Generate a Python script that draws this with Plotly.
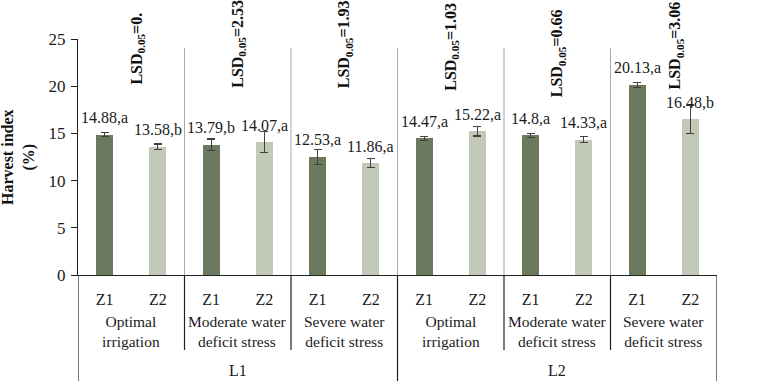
import plotly.graph_objects as go

# ---- data ----
levels = ["L1", "L2"]
treatments = ["Optimal<br>irrigation", "Moderate water<br>deficit stress", "Severe water<br>deficit stress"]
cultivars = ["Z1", "Z2"]
values = [14.88, 13.58, 13.79, 14.07, 12.53, 11.86, 14.47, 15.22, 14.80, 14.33, 20.13, 16.48]
errors = [0.20, 0.30, 0.62, 1.10, 0.80, 0.45, 0.20, 0.50, 0.20, 0.30, 0.30, 1.45]
letters = ["a", "b", "b", "a", "a", "a", "a", "a", "a", "a", "a", "b"]
value_text = ["14.88", "13.58", "13.79", "14.07", "12.53", "11.86", "14.47", "15.22", "14.8", "14.33", "20.13", "16.48"]
lsd_text = ["0.", "2.53", "1.93", "1.03", "0.66", "3.06"]
y_ticks = [0, 5, 10, 15, 20, 25]

# ---- layout helpers ----
W, H = 780, 382
L, R, T, B = 78, 63, 39, 107
pw, ph = W - L - R, H - T - B
n = len(values)
ngroups = n // 2
font_fam = "Liberation Serif, Times New Roman, serif"
dark = "#6b7a5e"
light = "#c3c9b7"

xs = [i + 0.5 for i in range(n)]
colors = [dark if i % 2 == 0 else light for i in range(n)]

fig = go.Figure()
fig.add_trace(go.Bar(
    x=xs, y=values, width=0.32,
    marker=dict(color=colors, line=dict(width=0)),
    error_y=dict(type="data", array=errors, visible=True, color="#404040", thickness=1.2, width=4),
    showlegend=False,
))

shapes = []
annotations = []

def px2paper(py):
    return (H - B - py) / ph

# in-plot gray dividers
for g in range(1, ngroups):
    shapes.append(dict(type="line", xref="x", yref="paper", x0=2 * g, x1=2 * g,
                       y0=0, y1=px2paper(48), line=dict(color="#a8a8a8", width=1)))
# below-axis dividers
for g in range(0, ngroups + 1):
    if g % 3 == 0:
        y1 = px2paper(381)
    else:
        y1 = px2paper(350)
    shapes.append(dict(type="line", xref="x", yref="paper", x0=2 * g, x1=2 * g,
                       y0=0, y1=y1, line=dict(color="#202020", width=1.2)))

# value labels
for i in range(n):
    annotations.append(dict(x=xs[i], y=values[i], xref="x", yref="y",
                            text=f"{value_text[i]},{letters[i]}", showarrow=False,
                            yanchor="middle", yshift=17,
                            font=dict(family=font_fam, size=16, color="#1a1a1a")))

# LSD labels
lsd_shift = [0.1, 0, 0, 0, 0, 0.22]
lsd_bottom = [86, 89, 89, 92, 98, 90]
for g in range(ngroups):
    annotations.append(dict(x=2 * g + 1 + lsd_shift[g], y=px2paper(lsd_bottom[g]), xref="x", yref="paper",
                            text="<b>LSD<sub>0.05</sub>=" + lsd_text[g] + "</b>",
                            textangle=-90, showarrow=False, yanchor="bottom", xanchor="center",
                            borderpad=0,
                            font=dict(family=font_fam, size=16, color="#111111")))

# treatment labels
for g in range(ngroups):
    annotations.append(dict(x=2 * g + 1, y=px2paper(331), xref="x", yref="paper",
                            text=treatments[g % 3], showarrow=False, yanchor="middle",
                            font=dict(family=font_fam, size=15.5, color="#1a1a1a")))
# level labels
for k, lv in enumerate(levels):
    annotations.append(dict(x=6 * k + 3, y=px2paper(370), xref="x", yref="paper",
                            text=lv, showarrow=False, yanchor="middle",
                            font=dict(family=font_fam, size=16, color="#1a1a1a")))

# y title
annotations.append(dict(x=-L / pw + 18 / pw, y=0.5, xref="paper", yref="paper",
                        text="<b>Harvest index<br>(%)</b>", textangle=-90, showarrow=False,
                        xanchor="center", yanchor="middle",
                        font=dict(family=font_fam, size=16, color="#111111")))

fig.update_layout(
    width=W, height=H,
    margin=dict(l=L, r=R, t=T, b=B, pad=0),
    paper_bgcolor="white", plot_bgcolor="white",
    bargap=0,
    xaxis=dict(range=[0, n], tickvals=xs, ticktext=[cultivars[i % 2] for i in range(n)],
               showline=True, linecolor="#202020", linewidth=1.2, ticks="", showgrid=False,
               zeroline=False, tickfont=dict(family=font_fam, size=16, color="#1a1a1a"),
               ticklabelstandoff=10),
    yaxis=dict(range=[0, 25], tickvals=y_ticks, showline=True, linecolor="#202020", linewidth=1.2,
               ticks="outside", ticklen=6, tickcolor="#202020", showgrid=False, zeroline=False,
               tickfont=dict(family=font_fam, size=17, color="#1a1a1a"), ticklabelstandoff=2),
    shapes=shapes,
    annotations=annotations,
)

fig.write_html("out.html")
